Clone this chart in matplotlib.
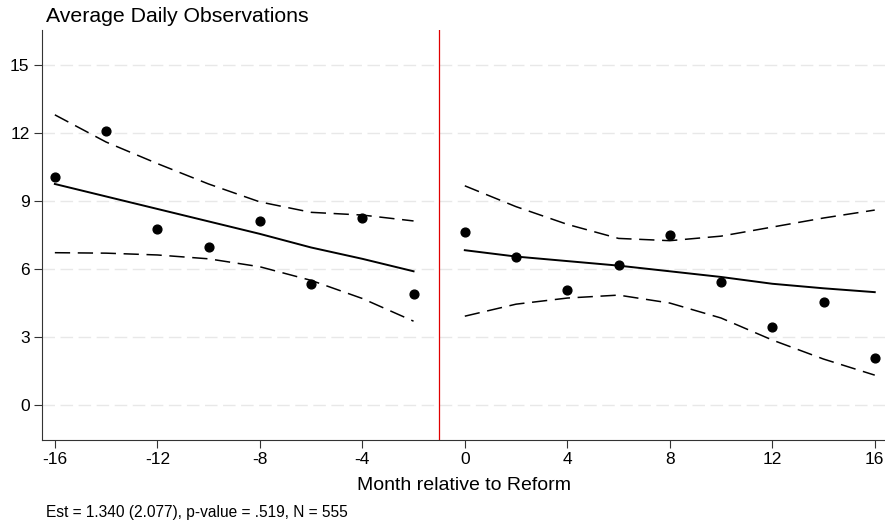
import numpy as np
import matplotlib.pyplot as plt

plt.rcParams['font.family'] = ['Liberation Sans', 'DejaVu Sans']

# Data
months_pre = [-16, -14, -12, -10, -8, -6, -4, -2]
obs_pre = [10.06, 12.08, 7.76, 6.97, 8.12, 5.34, 8.26, 4.90]
fit_pre = [9.75, 9.20, 8.65, 8.10, 7.55, 6.95, 6.45, 5.90]
ci_hi_pre = [12.80, 11.60, 10.65, 9.75, 8.96, 8.50, 8.38, 8.12]
ci_lo_pre = [6.72, 6.70, 6.62, 6.45, 6.10, 5.50, 4.70, 3.70]

months_post = [0, 2, 4, 6, 8, 10, 12, 14, 16]
obs_post = [7.63, 6.53, 5.07, 6.18, 7.50, 5.43, 3.44, 4.54, 2.07]
fit_post = [6.83, 6.55, 6.35, 6.15, 5.90, 5.65, 5.35, 5.15, 4.98]
ci_hi_post = [9.67, 8.75, 7.97, 7.35, 7.25, 7.45, 7.85, 8.25, 8.60]
ci_lo_post = [3.92, 4.45, 4.72, 4.85, 4.50, 3.84, 2.87, 2.03, 1.32]

xticks = [-16, -12, -8, -4, 0, 4, 8, 12, 16]
yticks = [0, 3, 6, 9, 12, 15]
reform_line = -1

fig = plt.figure(figsize=(8.85, 5.23), dpi=100)
ax = fig.add_axes([0.0475, 0.1587, 0.9525, 0.7839])

# grid lines
for y in yticks:
    ax.axhline(y, color='#e8e8e8', lw=1, ls=(0, (9, 4)), zorder=0)

ax.axvline(reform_line, color='#e00000', lw=0.9, zorder=1)

for m, o, f, hi, lo in [(months_pre, obs_pre, fit_pre, ci_hi_pre, ci_lo_pre),
                        (months_post, obs_post, fit_post, ci_hi_post, ci_lo_post)]:
    ax.scatter(m, o, s=40, color='black', zorder=3)
    ax.plot(m, f, color='black', lw=1.4, zorder=2)
    ax.plot(m, hi, color='black', lw=1.1, ls=(0, (10, 5)), zorder=2)
    ax.plot(m, lo, color='black', lw=1.1, ls=(0, (10, 5)), zorder=2)

ax.set_xlim(-16.5, 16.4)
ax.set_ylim(-1.54, 16.54)
ax.set_xticks(xticks)
ax.set_xticklabels([str(t) for t in xticks])
ax.set_yticks(yticks)
ax.tick_params(axis='both', labelsize=12.5, length=5.5, color='#333333', direction='out')

for s in ['top', 'right']:
    ax.spines[s].set_visible(False)
for s in ['left', 'bottom']:
    ax.spines[s].set_color('#333333')

ax.set_xlabel('Month relative to Reform', fontsize=14, labelpad=7)
fig.text(0.052, 0.986, 'Average Daily Observations', fontsize=15.3, va='top', ha='left')
fig.text(0.052, 0.012, 'Est = 1.340 (2.077), p-value = .519, N = 555', fontsize=11.2, ha='left')

fig.savefig('out.png', dpi=100)
